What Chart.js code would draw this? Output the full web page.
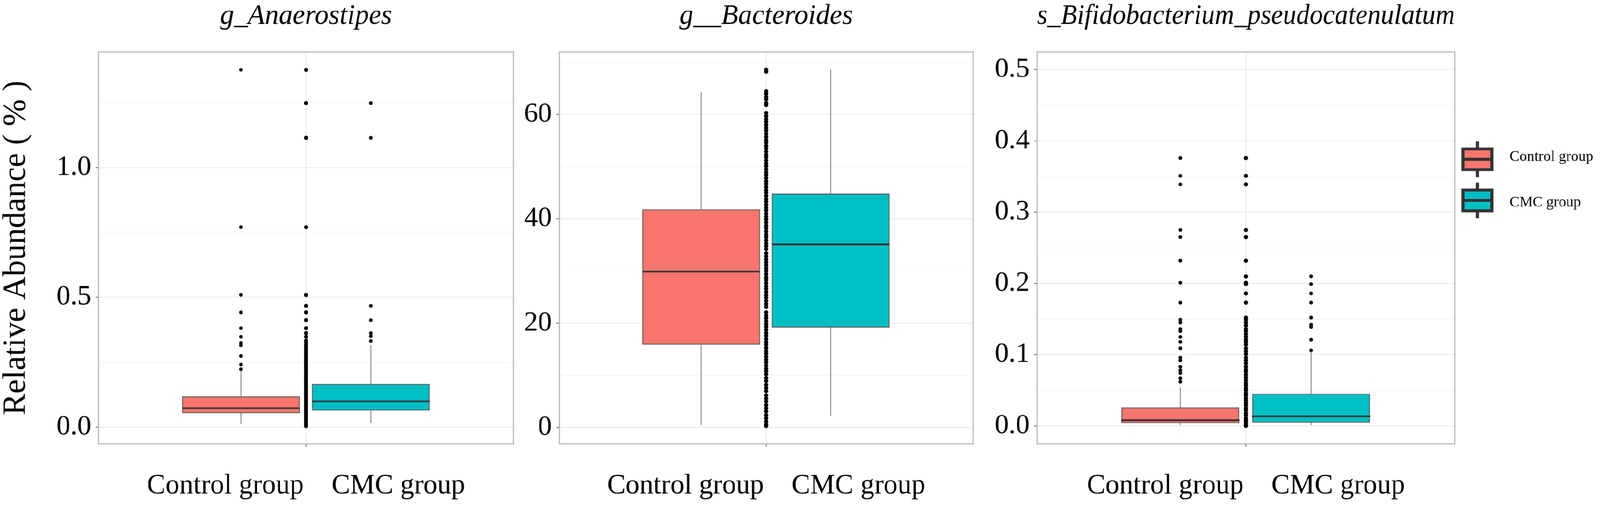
<!DOCTYPE html>
<html>
<head>
<meta charset="utf-8">
<script src="https://cdn.jsdelivr.net/npm/chart.js@4.4.0/dist/chart.umd.min.js"></script>
<style>
html,body{margin:0;padding:0;background:#fff;overflow:hidden;}
#wrap{position:relative;width:4317px;height:1363px;overflow:hidden;background:#fff;transform-origin:0 0;}
canvas{position:absolute;top:0;}
</style>
</head>
<body>
<div id="wrap">
  <canvas id="c1" width="1400" height="1363" style="left:0;width:1400px;height:1363px"></canvas>
  <canvas id="c2" width="1260" height="1363" style="left:1400px;width:1260px;height:1363px"></canvas>
  <canvas id="c3" width="1657" height="1363" style="left:2660px;width:1657px;height:1363px"></canvas>
</div>
<script>
// groups and colours
const groups = ['Control group', 'CMC group'];
const groupColors = ['#F8766D', '#00BFC4'];

// g_Anaerostipes : box stats per group [control, cmc]
const anaLow = [0.012, 0.015];
const anaQ1 = [0.054, 0.064];
const anaMed = [0.073, 0.099];
const anaQ3 = [0.118, 0.166];
const anaHigh = [0.216, 0.315];
const anaOutCtrl = [1.376, 0.770, 0.509, 0.442, 0.381, 0.348, 0.324, 0.315, 0.274, 0.241, 0.223];
const anaOutCmc = [1.248, 1.114, 0.467, 0.412, 0.362, 0.350, 0.332];
const anaAll = [1.376, 1.248, 1.114, 0.770, 0.509, 0.467, 0.442, 0.412, 0.381, 0.362, 0.348, 0.333, 0.324, 0.315,
  0.306, 0.298, 0.289, 0.281, 0.274, 0.267, 0.259, 0.253, 0.246, 0.240, 0.232, 0.226, 0.219, 0.211, 0.205, 0.198,
  0.192, 0.185, 0.178, 0.171, 0.165, 0.157, 0.151, 0.144, 0.137, 0.131, 0.123, 0.117, 0.110, 0.103, 0.097, 0.089,
  0.083, 0.076, 0.069, 0.062, 0.056, 0.048, 0.042, 0.035, 0.028, 0.022, 0.015, 0.009, 0.004];
const anaTicks = [0, 0.5, 1.0];
const anaTickLabels = ['0.0', '0.5', '1.0'];
const anaMinor = [0.25, 0.75, 1.25];

// g__Bacteroides
const bacLow = [0.5, 2.3];
const bacQ1 = [15.9, 19.2];
const bacMed = [29.9, 35.1];
const bacQ3 = [41.8, 44.8];
const bacHigh = [64.2, 68.6];
const bacAll = [68.6, 68.2, 64.5, 64.0, 63.4, 62.9, 62.2, 61.8,
  60.3, 59.7, 59.1, 58.6, 58.0, 57.4, 56.9, 56.3, 55.7, 55.1, 54.6, 54.0, 53.5, 52.9, 52.3, 51.8, 51.2, 50.6,
  50.1, 49.5, 48.9, 48.4, 47.8, 47.2, 46.7, 46.1, 45.5, 45.0, 44.4, 43.8, 43.3, 42.7, 42.1, 41.6, 41.0, 40.4,
  39.9, 39.3, 38.7, 38.2, 37.6, 37.0, 36.5, 35.9, 35.3, 34.8, 34.2, 33.4, 32.8, 32.2, 31.7, 31.1, 30.5, 30.0,
  29.4, 28.8, 28.3, 27.7, 27.1, 26.6, 26.0, 25.4, 24.9, 24.3, 23.7, 23.1, 22.1, 21.5, 21.0, 20.4, 19.8, 19.3,
  18.7, 18.1, 17.6, 17.0, 16.4, 15.9, 15.3, 14.7, 14.2, 13.6, 13.0, 12.5, 11.9, 11.3, 10.8, 10.2, 9.5, 8.9,
  8.2, 7.6, 7.0, 6.2, 5.6, 5.0, 4.3, 3.7, 3.1, 2.4, 1.8, 1.2, 0.6, 0.3];
const bacTicks = [0, 20, 40, 60];
const bacTickLabels = ['0', '20', '40', '60'];
const bacMinor = [10, 30, 50, 70];

// s_Bifidobacterium_pseudocatenulatum
const bifLow = [0.001, 0.001];
const bifQ1 = [0.004, 0.005];
const bifMed = [0.008, 0.0135];
const bifQ3 = [0.026, 0.045];
const bifHigh = [0.054, 0.106];
const bifOutCtrl = [0.376, 0.351, 0.339, 0.275, 0.265, 0.232, 0.201, 0.173, 0.149, 0.145, 0.136, 0.133, 0.125,
  0.118, 0.109, 0.096, 0.092, 0.083, 0.078, 0.074, 0.067, 0.062];
const bifOutCmc = [0.210, 0.199, 0.186, 0.173, 0.152, 0.142, 0.139, 0.121, 0.106];
const bifAll = [0.376, 0.351, 0.339, 0.275, 0.265, 0.232, 0.210, 0.201, 0.199, 0.186, 0.173, 0.152, 0.149, 0.145,
  0.141, 0.136, 0.133, 0.129, 0.125, 0.121, 0.118, 0.114, 0.109, 0.105, 0.101, 0.096, 0.092, 0.088, 0.083, 0.079,
  0.076, 0.072, 0.068, 0.064, 0.060, 0.057, 0.053, 0.050, 0.046, 0.043, 0.039, 0.036, 0.032, 0.029, 0.025, 0.022,
  0.018, 0.015, 0.011, 0.008, 0.005, 0.002, 0.000];
const bifTicks = [0, 0.1, 0.2, 0.3, 0.4, 0.5];
const bifTickLabels = ['0.0', '0.1', '0.2', '0.3', '0.4', '0.5'];
const bifMinor = [0.05, 0.15, 0.25, 0.35, 0.45];

const SERIF = "'Liberation Serif', 'Times New Roman', serif";
Chart.defaults.font.family = SERIF;
Chart.defaults.color = '#000';

// the viewport can come out narrower than 4317, so shrink the whole layout to fit it
const fitK = Math.min(window.innerWidth / 4317, window.innerHeight / 1363);
document.getElementById('wrap').style.transform = 'scale(' + fitK + ')';
const DPR = (window.devicePixelRatio || 1) * fitK;

// dodge positions on the 0..1 x axis
const POS = [0.343, 0.656];
const HALF = 0.1415;

// panel border
const framePlugin = {
  id: 'frame',
  beforeDatasetsDraw(chart) {
    const {ctx, chartArea: a} = chart;
    ctx.save();
    ctx.strokeStyle = '#b8b8b8';
    ctx.lineWidth = 3;
    ctx.strokeRect(a.left, a.top, a.width, a.height);
    ctx.restore();
  }
};

// boxplot legend at the right of the last panel
const boxLegend = {
  id: 'boxLegend',
  afterDraw(chart) {
    const {ctx, chartArea: a} = chart;
    const x0 = a.right + 18;
    ctx.save();
    groups.forEach((g, i) => {
      const cy = 430 + i * 111;
      ctx.strokeStyle = '#333';
      ctx.lineWidth = 8;
      ctx.beginPath();
      ctx.moveTo(x0 + 43, cy - 48);
      ctx.lineTo(x0 + 43, cy + 48);
      ctx.stroke();
      ctx.fillStyle = groupColors[i];
      ctx.fillRect(x0 + 4, cy - 28, 78, 56);
      ctx.strokeRect(x0 + 4, cy - 28, 78, 56);
      ctx.beginPath();
      ctx.moveTo(x0 + 4, cy);
      ctx.lineTo(x0 + 82, cy);
      ctx.stroke();
      ctx.fillStyle = '#000';
      ctx.font = '40px ' + SERIF;
      ctx.textBaseline = 'middle';
      ctx.fillText(g, x0 + 130, cy - 6 + i * 12);
    });
    ctx.restore();
  }
};

function boxPanel(id, p) {
  const datasets = [];
  datasets.push({
    type: 'bar',
    data: groups.map((g, i) => ({x: POS[i], y: [p.q1[i], p.q3[i]]})),
    backgroundColor: groupColors,
    borderColor: '#5c5c5c',
    borderWidth: 2.5,
    borderSkipped: false,
    barThickness: 317,
    order: 2
  });
  groups.forEach((g, i) => {
    datasets.push({
      type: 'line',
      data: [{x: POS[i], y: p.low[i]}, {x: POS[i], y: p.high[i]}],
      borderColor: '#6e6e6e', borderWidth: 2, pointRadius: 0, fill: false, order: 3
    });
    datasets.push({
      type: 'line',
      data: [{x: POS[i] - HALF, y: p.med[i]}, {x: POS[i] + HALF, y: p.med[i]}],
      borderColor: '#333', borderWidth: 5, pointRadius: 0, fill: false, order: 1
    });
    if (p.out[i].length) {
      datasets.push({
        type: 'scatter',
        data: p.out[i].map(v => ({x: POS[i], y: v})),
        pointRadius: 5, pointBackgroundColor: '#111', pointBorderWidth: 0, order: 0
      });
    }
  });
  datasets.push({
    type: 'scatter',
    data: p.all.map(v => ({x: 0.5, y: v})),
    pointRadius: 5.5, pointBackgroundColor: '#000', pointBorderWidth: 0, order: 0
  });

  const isMajor = c => c.tick && p.ticks.includes(c.tick.value);

  return new Chart(document.getElementById(id), {
    type: 'bar',
    data: {datasets},
    options: {
      responsive: false,
      devicePixelRatio: DPR,
      animation: false,
      layout: {padding: {left: 0, right: p.padRight, top: 0, bottom: 0}},
      plugins: {legend: {display: false}, tooltip: {enabled: false}},
      scales: {
        x: {
          type: 'linear', position: 'bottom', min: 0, max: 1, offset: false,
          afterBuildTicks: s => { s.ticks = [{value: 0.5}]; },
          afterFit: s => { s.height = 165; },
          ticks: {callback: () => groups.join('    '), font: {size: 75}, color: '#000',
            padding: 62, maxRotation: 0, autoSkip: false},
          grid: {color: '#EBEBEB', lineWidth: 2.5, tickColor: '#555', tickLength: 8, tickWidth: 2, offset: false},
          border: {display: false}
        },
        top: {
          type: 'linear', position: 'top', min: 0, max: 1,
          ticks: {display: false}, grid: {display: false}, border: {display: false},
          title: {display: true, text: p.title, color: '#000',
            font: {size: 75, style: 'italic', lineHeight: 1.2}, padding: {top: 0, bottom: 0}},
          afterFit: s => { s.height = 140; }
        },
        y: {
          min: p.min, max: p.max,
          afterBuildTicks: s => { s.ticks = p.ticks.concat(p.minor).sort((a, b) => a - b).map(v => ({value: v})); },
          afterFit: s => { s.width = p.yWidth; },
          ticks: {
            callback: v => p.ticks.includes(v) ? p.labels[p.ticks.indexOf(v)] : '',
            font: {size: 75}, color: '#000', padding: 12, autoSkip: false
          },
          grid: {
            color: c => isMajor(c) ? '#EBEBEB' : '#F3F3F3',
            lineWidth: c => isMajor(c) ? 2.5 : 1.5,
            tickColor: c => isMajor(c) ? '#555' : 'rgba(0,0,0,0)',
            tickLength: 8, tickWidth: 2
          },
          border: {display: false},
          title: p.yTitle ? {display: true, text: p.yTitle, color: '#000',
            font: {size: 87, lineHeight: 1}, padding: {top: 0, bottom: 0}} : {display: false}
        }
      }
    },
    plugins: p.legend ? [framePlugin, boxLegend] : [framePlugin]
  });
}

boxPanel('c1', {
  title: 'g_Anaerostipes', yTitle: 'Relative Abundance ( % )',
  low: anaLow, q1: anaQ1, med: anaMed, q3: anaQ3, high: anaHigh,
  out: [anaOutCtrl, anaOutCmc], all: anaAll,
  ticks: anaTicks, labels: anaTickLabels, minor: anaMinor,
  min: -0.064, max: 1.445, yWidth: 266, padRight: 15
});
boxPanel('c2', {
  title: 'g__Bacteroides',
  low: bacLow, q1: bacQ1, med: bacMed, q3: bacQ3, high: bacHigh,
  out: [[], []], all: bacAll,
  ticks: bacTicks, labels: bacTickLabels, minor: bacMinor,
  min: -3.1, max: 72.0, yWidth: 109, padRight: 35
});
boxPanel('c3', {
  title: 's_Bifidobacterium_pseudocatenulatum',
  low: bifLow, q1: bifQ1, med: bifMed, q3: bifQ3, high: bifHigh,
  out: [bifOutCtrl, bifOutCmc], all: bifAll,
  ticks: bifTicks, labels: bifTickLabels, minor: bifMinor,
  min: -0.025, max: 0.525, yWidth: 138, padRight: 392, legend: true
});
</script>
</body>
</html>
